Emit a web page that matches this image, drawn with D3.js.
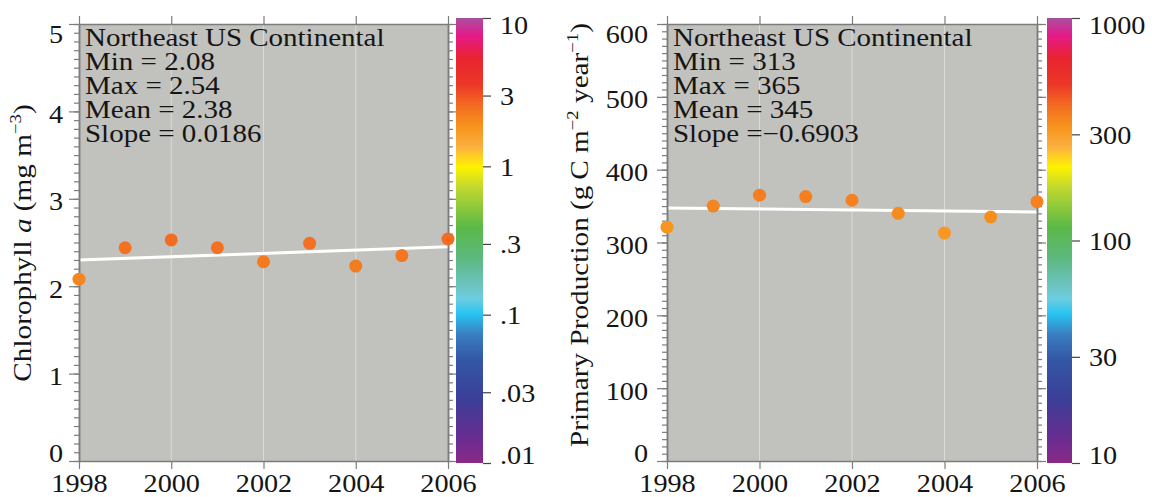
<!DOCTYPE html>
<html><head><meta charset="utf-8">
<script src="https://cdn.jsdelivr.net/npm/d3@7"></script>
<style>
body{margin:0;background:#fff;}
svg text{font-family:"Liberation Serif","Tinos","DejaVu Serif",serif !important;fill:#151515;}
</style>
</head><body>
<svg id="chart" width="1152" height="497"></svg>
<script>
// ---------- data ----------
const years = [1998, 1999, 2000, 2001, 2002, 2003, 2004, 2005, 2006];
const chlValues = [2.08, 2.44, 2.53, 2.44, 2.28, 2.49, 2.23, 2.35, 2.54];
const ppValues = [321, 350, 365, 363, 358, 340, 313, 335, 356];
const chlSlope = 0.0186;
const ppSlope = -0.6903;
const chlInfo = ["Northeast US Continental", "Min = 2.08", "Max = 2.54", "Mean = 2.38", "Slope = 0.0186"];
const ppInfo = ["Northeast US Continental", "Min = 313", "Max = 365", "Mean = 345", "Slope =\u22120.6903"];
const yearTicks = [1998, 2000, 2002, 2004, 2006];
const yearGrid = [2000, 2002, 2004];
const chlTicks = [0, 1, 2, 3, 4, 5];
const ppTicks = [0, 100, 200, 300, 400, 500, 600];
const chlBarTicks = [10, 3, 1, 0.3, 0.1, 0.03, 0.01];
const chlBarLabels = ["10", "3", "1", ".3", ".1", ".03", ".01"];
const ppBarTicks = [1000, 300, 100, 30, 10];
const ppBarLabels = ["1000", "300", "100", "30", "10"];
const colorFracs = [0, 0.04, 0.09, 0.15, 0.19, 0.245, 0.29, 0.335, 0.38, 0.47, 0.54, 0.60, 0.63, 0.665, 0.71, 0.77, 0.86, 0.94, 1];
const colorStops = ["#a8509e", "#e6198a", "#e8232f", "#ec3827", "#f26522", "#f7941d", "#fbb040", "#fff200", "#c2d82e", "#5ab947", "#5cb87e", "#6cc4c0", "#6dcde0", "#27c4f3", "#3a7fc1", "#3356a5", "#3c3e98", "#662d91", "#8a2a88"];

// ---------- drawing ----------
const svg = d3.select("#chart");
const defs = svg.append("defs");
const bgColor = "#c1c1be";
const axisColor = "#7c7c7c";
const FS = 25;      // font size
const SX = 1.13;    // horizontal stretch of the reference's type
const gradScale = d3.scaleLinear().domain(colorFracs).range(colorStops);

function panel(cfg) {
  const x = d3.scaleLinear().domain([1998, 2006]).range([cfg.left, cfg.right]);
  const y = d3.scaleLinear().domain(cfg.yDomain).range([cfg.bottom, cfg.top]);
  const g = svg.append("g");

  g.append("rect").attr("x", cfg.left).attr("y", cfg.top)
    .attr("width", cfg.right - cfg.left).attr("height", cfg.bottom - cfg.top)
    .attr("fill", bgColor);

  g.selectAll(".grid").data(yearGrid).join("line")
    .attr("x1", d => x(d)).attr("x2", d => x(d))
    .attr("y1", cfg.top).attr("y2", cfg.bottom)
    .attr("stroke", "#dadad8").attr("stroke-width", 1);

  const mx = d3.mean(years), my = d3.mean(cfg.values);
  g.append("line")
    .attr("x1", x(1998)).attr("y1", y(my + cfg.slope * (1998 - mx)))
    .attr("x2", x(2006)).attr("y2", y(my + cfg.slope * (2006 - mx)))
    .attr("stroke", "#ffffff").attr("stroke-width", 3);

  const cb = d3.scaleLog().domain([cfg.barMax, cfg.barMin]).range([cfg.barTop, cfg.barBottom]);
  const cbT = d3.scaleLog().domain([cfg.barMax, cfg.barMin]).range([0, 1]);

  function styleAxis(sel) {
    sel.attr("font-family", null).attr("font-size", null);
    sel.select(".domain").attr("stroke", axisColor).attr("stroke-width", 1.5);
    sel.selectAll(".tick line").attr("stroke", axisColor).attr("stroke-width", 1.2);
  }
  const minorTicks = d3.range(cfg.yDomain[0], cfg.yDomain[1] + cfg.minorStep / 2, cfg.minorStep);
  g.append("g").attr("transform", `translate(${cfg.left},0)`)
    .call(d3.axisLeft(y).tickValues(minorTicks).tickSize(5).tickFormat("").tickSizeOuter(0)).call(styleAxis);
  const la = g.append("g").attr("transform", `translate(${cfg.left},0)`)
    .call(d3.axisLeft(y).tickValues(cfg.yTicks).tickSize(10).tickFormat(d3.format("d")).tickSizeOuter(0)).call(styleAxis);
  la.selectAll("text").attr("font-size", FS)
    .attr("transform", `scale(${SX},1)`).attr("x", -cfg.labelGap / SX)
    .attr("dy", d => d === cfg.yDomain[1] ? "0.72em" : d === cfg.yDomain[0] ? "0.02em" : "0.44em");
  g.append("g").attr("transform", `translate(${cfg.right},0)`)
    .call(d3.axisRight(y).tickValues(minorTicks).tickSize(5).tickFormat("").tickSizeOuter(0)).call(styleAxis);
  g.append("g").attr("transform", `translate(${cfg.right},0)`)
    .call(d3.axisRight(y).tickValues(cfg.yTicks).tickSize(9).tickFormat("").tickSizeOuter(0)).call(styleAxis);
  g.append("g").attr("transform", `translate(0,${cfg.top})`)
    .call(d3.axisTop(x).tickValues(yearTicks).tickSize(8).tickFormat("").tickSizeOuter(0)).call(styleAxis);
  const ba = g.append("g").attr("transform", `translate(0,${cfg.bottom})`)
    .call(d3.axisBottom(x).tickValues(yearTicks).tickSize(8).tickFormat(d3.format("d")).tickSizeOuter(0)).call(styleAxis);
  ba.selectAll("text").attr("font-size", FS).attr("transform", `scale(${SX},1)`)
    .attr("y", 31).attr("dy", 0);

  g.selectAll(".pt").data(years).join("circle")
    .attr("cx", d => x(d)).attr("cy", (d, i) => y(cfg.values[i]))
    .attr("r", 6.5)
    .attr("fill", (d, i) => gradScale(cbT(cfg.values[i])));

  const info = g.append("g").attr("transform", `translate(${cfg.left + 6},${cfg.top + 22}) scale(${SX + 0.03},1)`)
    .append("text").attr("font-size", FS);
  cfg.info.forEach((t, i) => {
    info.append("tspan").attr("x", 0).attr("dy", i === 0 ? 0 : 24).text(t);
  });

  const gid = "grad" + cfg.id;
  const lg = defs.append("linearGradient").attr("id", gid)
    .attr("x1", 0).attr("y1", 0).attr("x2", 0).attr("y2", 1);
  colorFracs.forEach((f, i) => lg.append("stop").attr("offset", f).attr("stop-color", colorStops[i]));
  g.append("rect").attr("x", cfg.barLeft).attr("y", cfg.barTop)
    .attr("width", cfg.barWidth).attr("height", cfg.barBottom - cfg.barTop)
    .attr("fill", `url(#${gid})`);
  const ca = g.append("g").attr("transform", `translate(${cfg.barLeft + cfg.barWidth},0)`)
    .call(d3.axisRight(cb).tickValues(cfg.barTicks).tickSize(8)
      .tickFormat((d, i) => cfg.barLabels[i]).tickSizeOuter(0));
  ca.attr("font-family", null).attr("font-size", null);
  ca.select(".domain").remove();
  ca.selectAll(".tick line").attr("stroke", "#444").attr("stroke-width", 1.2);
  ca.selectAll("text").attr("font-size", FS).attr("transform", `scale(${SX},1)`).attr("x", 17 / SX)
    .attr("dy", (d) => d === cfg.barMax ? "0.62em" : d === cfg.barMin ? "0.02em" : "0.36em");

  const yt = svg.append("g")
    .attr("transform", `translate(${cfg.titleX},${cfg.titleY}) rotate(-90) scale(1.17,1)`)
    .append("text").attr("text-anchor", "middle").attr("font-size", FS);
  cfg.title(yt);
}

panel({
  id: "chl", left: 79, right: 448, top: 24, bottom: 461,
  yDomain: [0, 5], yTicks: chlTicks, minorStep: 0.1, labelGap: 16,
  values: chlValues, slope: chlSlope, info: chlInfo,
  barLeft: 456, barWidth: 27, barTop: 18, barBottom: 463, barMax: 10, barMin: 0.01,
  barTicks: chlBarTicks, barLabels: chlBarLabels,
  titleX: 31, titleY: 243,
  title: t => {
    t.append("tspan").text("Chlorophyll ");
    t.append("tspan").attr("font-style", "italic").text("a");
    t.append("tspan").text(" (mg m");
    t.append("tspan").attr("font-size", 16).attr("dy", -10).text("\u22123");
    t.append("tspan").attr("dy", 10).text(")");
  }
});

panel({
  id: "pp", left: 667, right: 1037, top: 24, bottom: 461,
  yDomain: [0, 600], yTicks: ppTicks, minorStep: 10, labelGap: 19,
  values: ppValues, slope: ppSlope, info: ppInfo,
  barLeft: 1047, barWidth: 25, barTop: 18, barBottom: 463, barMax: 1000, barMin: 10,
  barTicks: ppBarTicks, barLabels: ppBarLabels,
  titleX: 588, titleY: 235,
  title: t => {
    t.append("tspan").text("Primary Production (g\u2009C m");
    t.append("tspan").attr("font-size", 16).attr("dy", -10).text("\u22122");
    t.append("tspan").attr("dy", 10).text(" year");
    t.append("tspan").attr("font-size", 16).attr("dy", -10).text("\u22121");
    t.append("tspan").attr("dy", 10).text(")");
  }
});
</script>
</body></html>
